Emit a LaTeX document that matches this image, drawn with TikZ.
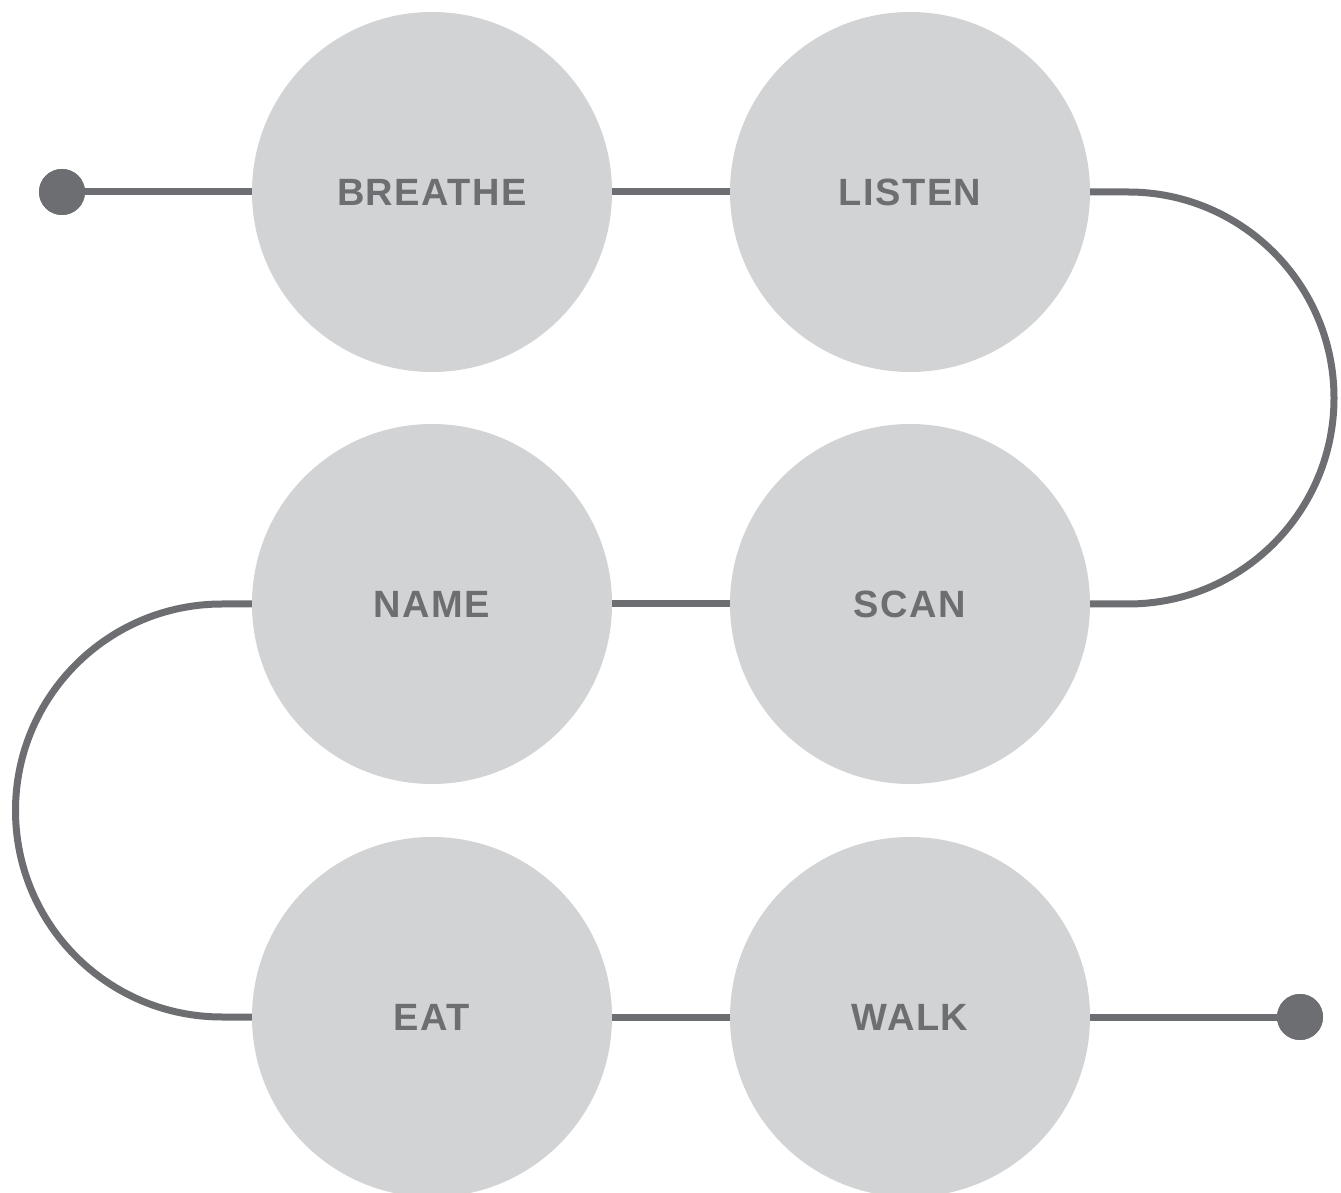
\documentclass[tikz,border=0pt]{standalone}
\usepackage{fontspec}
\setmainfont{Liberation Sans}
\definecolor{linegray}{HTML}{6D6E71}
\definecolor{circfill}{HTML}{D1D3D4}
\begin{document}
\begin{tikzpicture}[x=1pt,y=1pt,
  stepcircle/.style={circle,fill=circfill,draw=none,inner sep=0pt,minimum size=360pt,
    text=linegray,font=\fontsize{38}{40}\selectfont\bfseries\addfontfeatures{LetterSpace=4}},
  enddot/.style={circle,fill=linegray,inner sep=0pt,minimum size=46pt},
  conn/.style={draw=linegray,line width=7pt}]
\useasboundingbox (0,0) rectangle (1341,1192);
\node[stepcircle] (breathe) at (432,1000) {\raisebox{-2pt}{BREATHE}};
\node[stepcircle] (listen) at (910,1000) {\raisebox{-2pt}{LISTEN}};
\node[stepcircle] (name) at (432,588) {\raisebox{-2pt}{NAME}};
\node[stepcircle] (scan) at (910,588) {\raisebox{-2pt}{SCAN}};
\node[stepcircle] (eat) at (432,175) {\raisebox{-2pt}{EAT}};
\node[stepcircle] (walk) at (910,175) {\raisebox{-2pt}{WALK}};
\node[enddot] (start) at (62,1000) {};
\node[enddot] (finish) at (1300,175) {};
\coordinate (r1) at (1128,1000);
\coordinate (r2) at (1128,588);
\coordinate (l1) at (222,588);
\coordinate (l2) at (222,175);
\draw[conn] (start.center) -- (breathe.west);
\draw[conn] (breathe.east) -- (listen.west);
\draw[conn] (listen.east) -- (r1) arc[start angle=90,end angle=-90,radius=206] -- (scan.east);
\draw[conn] (scan.west) -- (name.east);
\draw[conn] (name.west) -- (l1) arc[start angle=90,end angle=270,radius=206.5] -- (eat.west);
\draw[conn] (eat.east) -- (walk.west);
\draw[conn] (walk.east) -- (finish.center);
\node[enddot] at (start) {};
\node[enddot] at (finish) {};
\end{tikzpicture}
\end{document}
